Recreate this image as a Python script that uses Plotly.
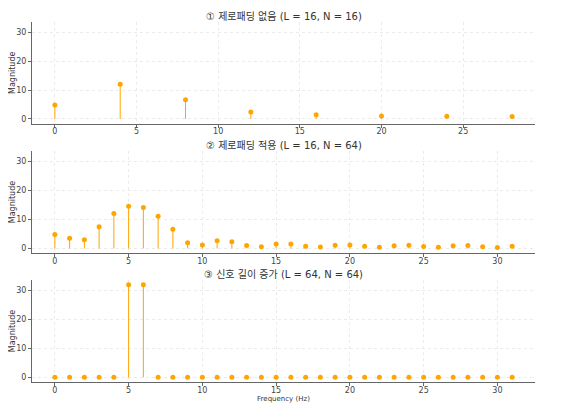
import plotly.graph_objects as go

# panel 1: L=16, N=16 (bins every 4 Hz)
freq1 = [0, 4, 8, 12, 16, 20, 24, 28]
mag1 = [4.8, 12.0, 6.6, 2.4, 1.4, 1.0, 0.9, 0.8]

# panel 2: L=16, N=64
freq2 = list(range(32))
mag2 = [4.8, 3.5, 3.0, 7.5, 12.0, 14.5, 14.1, 11.1, 6.6, 2.0, 1.2, 2.7, 2.3, 1.0, 0.6, 1.5,
        1.5, 0.8, 0.5, 1.1, 1.2, 0.8, 0.4, 0.9, 1.1, 0.7, 0.4, 0.9, 1.0, 0.6, 0.3, 0.8]

# panel 3: L=64, N=64
freq3 = list(range(32))
mag3 = [0, 0, 0, 0, 0, 32, 32] + [0] * 25

titles = ["① 제로패딩 없음 (L = 16, N = 16)",
          "② 제로패딩 적용 (L = 16, N = 64)",
          "③ 신호 길이 증가 (L = 64, N = 64)"]

COLOR = "#FFA500"
FONT = "DejaVu Sans, Noto Sans CJK KR, sans-serif"

panels = [(freq1, mag1), (freq2, mag2), (freq3, mag3)]
domains = [(0.718, 1.0), (0.358, 0.642), (0.0, 0.283)]
xranges = [(-1.4, 29.4), (-1.55, 32.55), (-1.55, 32.55)]

fig = go.Figure()
for i, (fx, fy) in enumerate(panels):
    sx, sy = [], []
    for a, b in zip(fx, fy):
        sx += [a, a, None]
        sy += [0, b, None]
    ax = "" if i == 0 else str(i + 1)
    fig.add_trace(go.Scatter(x=sx, y=sy, mode="lines", line=dict(color=COLOR, width=1),
                             xaxis="x" + ax, yaxis="y" + ax, hoverinfo="skip", showlegend=False))
    fig.add_trace(go.Scatter(x=fx, y=fy, mode="markers", marker=dict(color=COLOR, size=5),
                             xaxis="x" + ax, yaxis="y" + ax, showlegend=False))

    axis_style = dict(showline=True, linecolor="#666", linewidth=1, ticks="outside", ticklen=3,
                      tickcolor="#666", tickfont=dict(size=8, color="#444"), showgrid=True,
                      gridcolor="#ebebeb", griddash="dot", gridwidth=1, zeroline=False,
                      automargin=False)
    fig.layout["xaxis" + ax] = dict(axis_style, domain=[0, 1], range=list(xranges[i]), dtick=5,
                                    anchor="y" + ax, ticklabelstandoff=-3)
    fig.layout["yaxis" + ax] = dict(axis_style, domain=list(domains[i]), range=[-1.6, 33.6], dtick=10,
                                    anchor="x" + ax,
                                    title=dict(text="Magnitude", font=dict(size=8, color="#333"), standoff=0))
    fig.add_annotation(text=titles[i], xref="paper", yref="paper", x=0.5, y=domains[i][1],
                       yanchor="bottom", yshift=-2, showarrow=False, font=dict(size=10, color="#333"))

fig.layout.xaxis3.title = dict(text="Frequency (Hz)", font=dict(size=7, color="#333"), standoff=0)

# page body adds an 8px offset, so margins are shifted to compensate
fig.update_layout(width=571, height=406, margin=dict(l=24, r=44, t=14, b=32),
                  paper_bgcolor="white", plot_bgcolor="white", font=dict(family=FONT))
fig.write_html("out.html")
